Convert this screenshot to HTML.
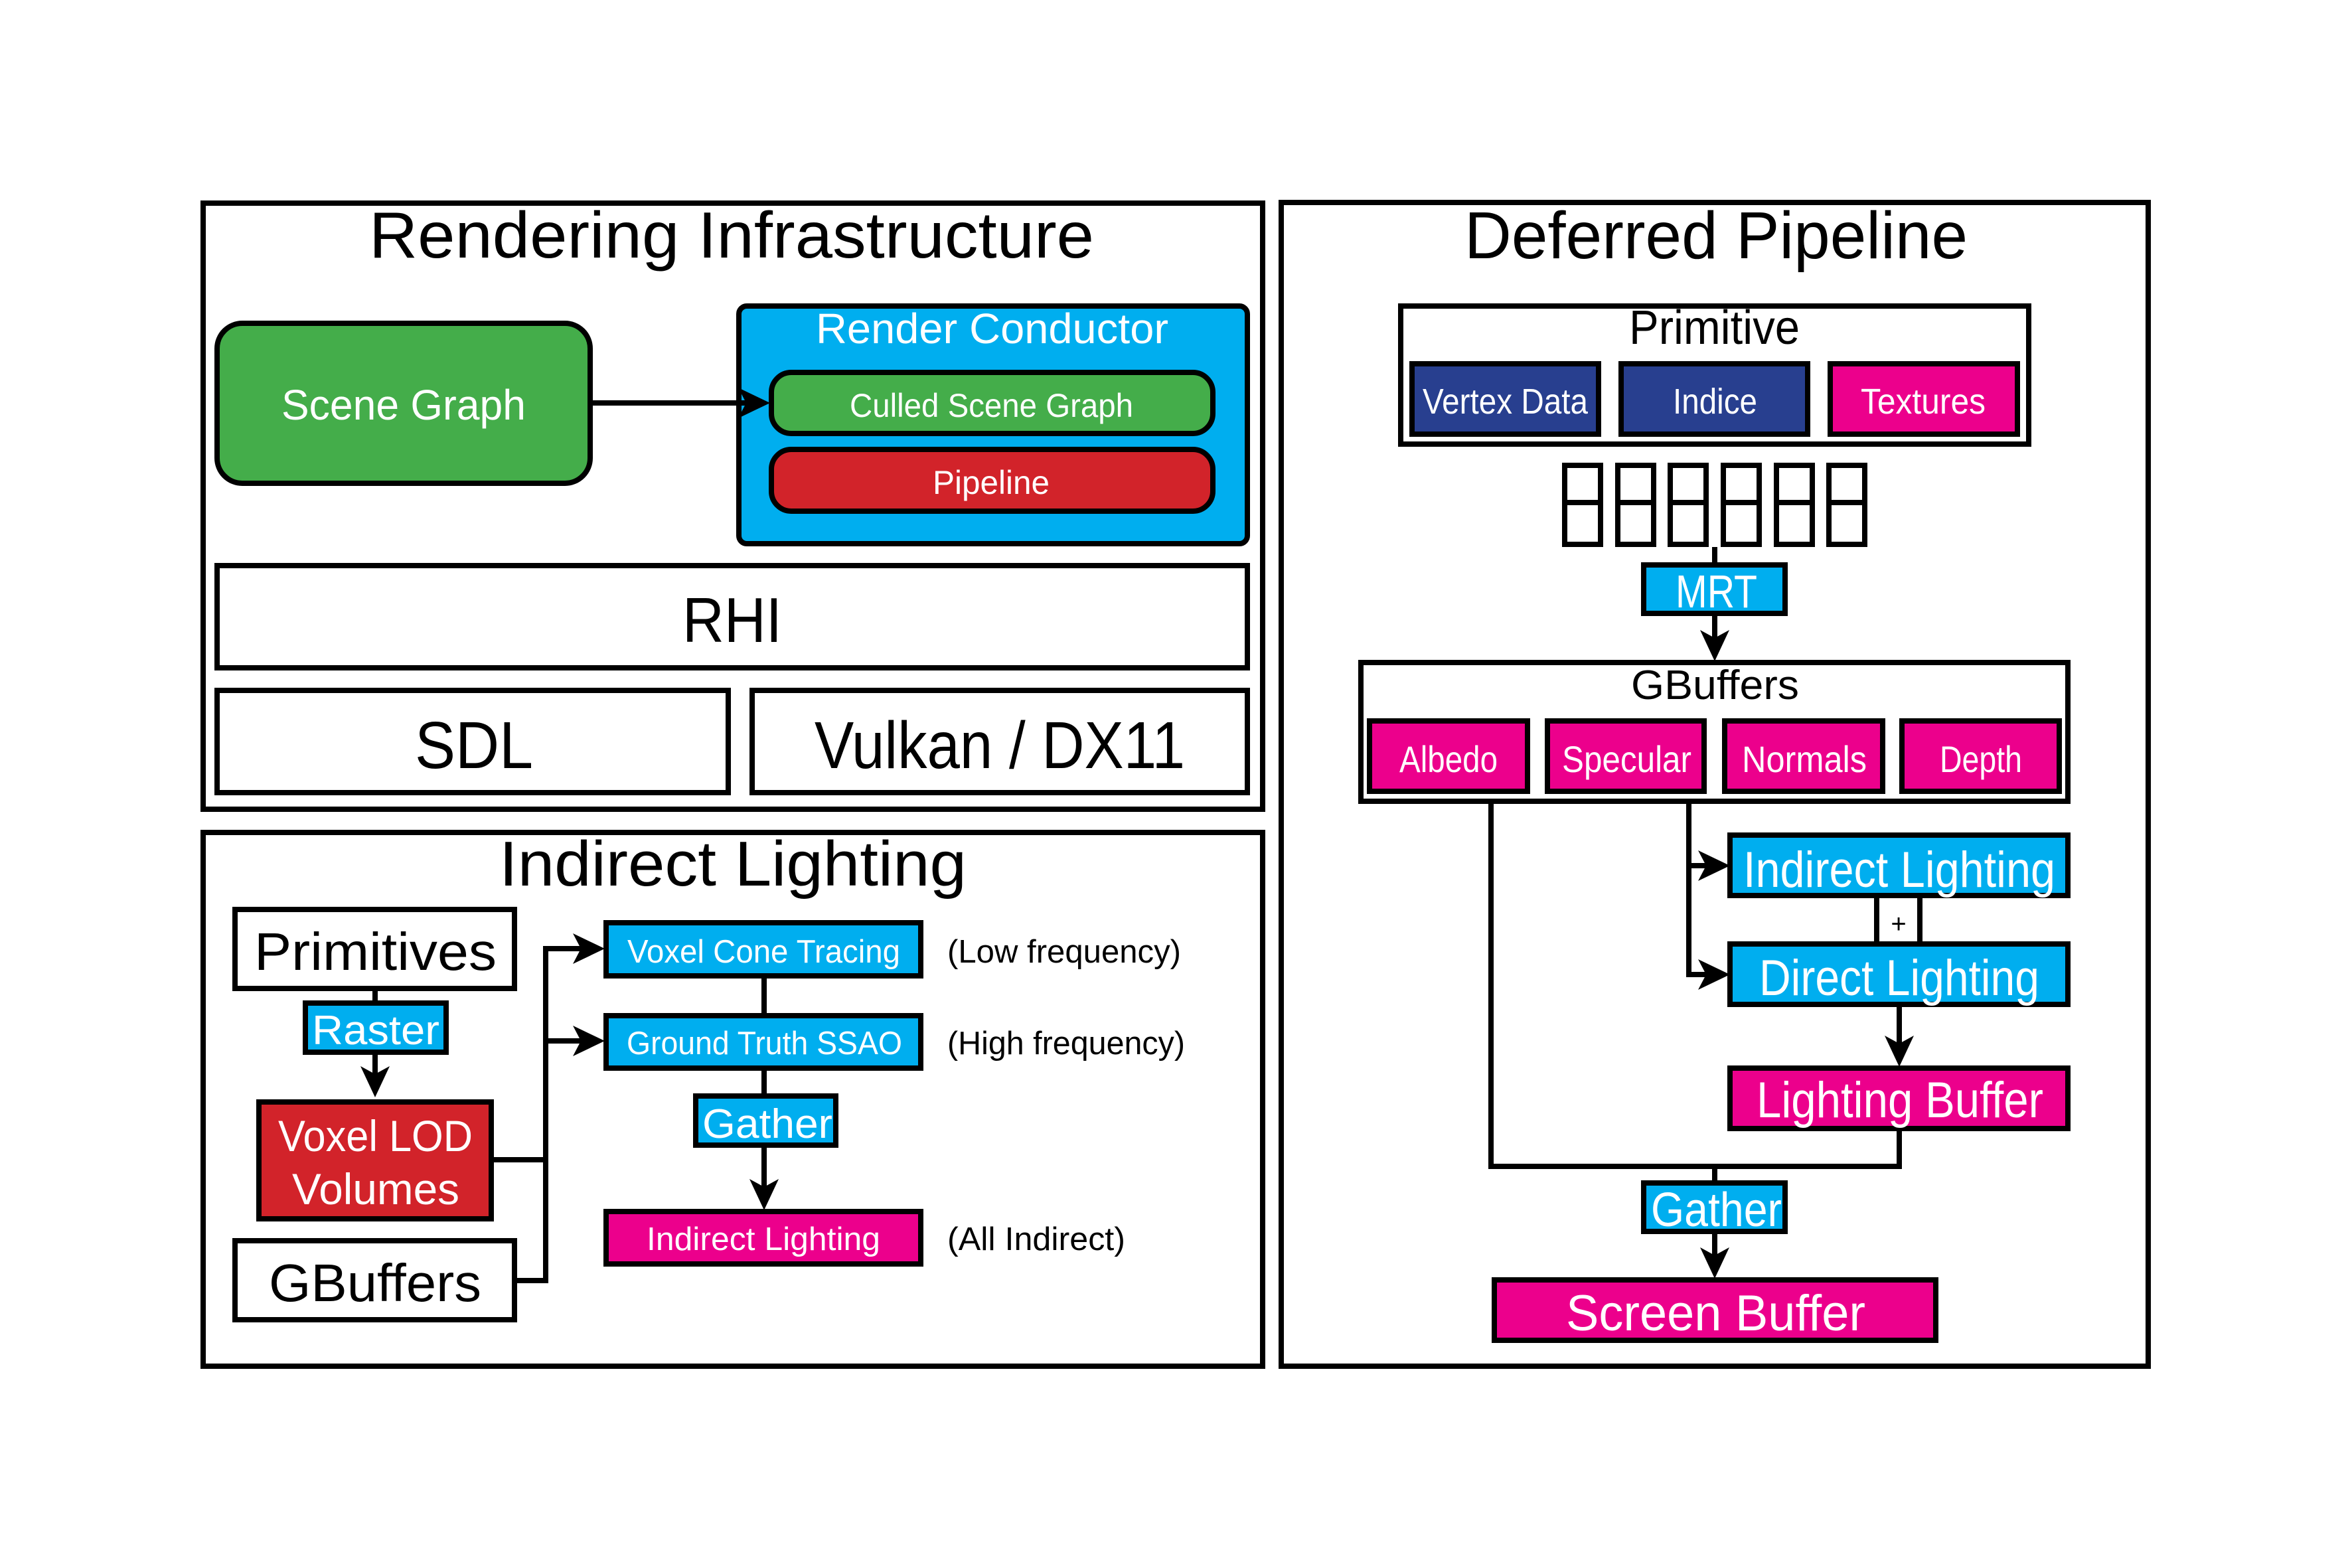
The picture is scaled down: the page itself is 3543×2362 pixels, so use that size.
<!DOCTYPE html>
<html><head><meta charset="utf-8"><style>
html,body{margin:0;padding:0;background:#fff;}
svg{display:block;}
text{font-family:"Liberation Sans Narrow","Liberation Sans",sans-serif;}
</style></head><body>
<svg width="3543" height="2362" viewBox="0 0 3543 2362" xmlns="http://www.w3.org/2000/svg">
<rect width="3543" height="2362" fill="#fff"/>
<g fill="none" stroke="#000" stroke-width="8">
<rect x="306" y="306" width="1596" height="913"/>
<rect x="306" y="1254" width="1596" height="804"/>
<rect x="1930" y="305" width="1306" height="1753"/>
</g>
<!-- Rendering Infrastructure -->
<text x="556" y="388" font-size="98" textLength="1092" lengthAdjust="spacingAndGlyphs">Rendering Infrastructure</text>
<rect x="327" y="487" width="562" height="241" rx="38" fill="#44AD4A" stroke="#000" stroke-width="8"/>
<text x="424" y="632" font-size="64" fill="#fff" textLength="368" lengthAdjust="spacingAndGlyphs">Scene Graph</text>
<rect x="1113" y="461" width="766" height="358" rx="12" fill="#00AEEF" stroke="#000" stroke-width="8"/>
<text x="1229" y="517" font-size="64" fill="#fff" textLength="531" lengthAdjust="spacingAndGlyphs">Render Conductor</text>
<rect x="1162" y="561" width="665" height="92" rx="30" fill="#44AD4A" stroke="#000" stroke-width="8"/>
<text x="1280" y="628" font-size="50" fill="#fff" textLength="427" lengthAdjust="spacingAndGlyphs">Culled Scene Graph</text>
<rect x="1162" y="677" width="665" height="93" rx="30" fill="#D2232A" stroke="#000" stroke-width="8"/>
<text x="1405" y="744" font-size="50" fill="#fff" textLength="176" lengthAdjust="spacingAndGlyphs">Pipeline</text>
<line x1="893" y1="607" x2="1130" y2="607" stroke="#000" stroke-width="8"/>
<polygon points="1160,607 1112,584 1124,607 1112,630" fill="#000"/>
<rect x="327" y="852" width="1552" height="154" fill="#fff" stroke="#000" stroke-width="8"/>
<text x="1028" y="967" font-size="96" textLength="150" lengthAdjust="spacingAndGlyphs">RHI</text>
<rect x="327" y="1040" width="770" height="154" fill="#fff" stroke="#000" stroke-width="8"/>
<text x="625" y="1157" font-size="100" textLength="178" lengthAdjust="spacingAndGlyphs">SDL</text>
<rect x="1133" y="1040" width="746" height="154" fill="#fff" stroke="#000" stroke-width="8"/>
<text x="1227" y="1157" font-size="100" textLength="558" lengthAdjust="spacingAndGlyphs">Vulkan / DX11</text>
<!-- Indirect Lighting panel -->
<text x="752" y="1334" font-size="96" textLength="704" lengthAdjust="spacingAndGlyphs">Indirect Lighting</text>
<g stroke="#000" stroke-width="8" fill="none">
<line x1="565" y1="1493" x2="565" y2="1507"/>
<line x1="565" y1="1589" x2="565" y2="1625"/>
<polyline points="744,1747 822,1747"/>
<polyline points="779,1929 822,1929 822,1429 885,1429"/>
<line x1="822" y1="1568" x2="885" y2="1568"/>
<line x1="1151" y1="1474" x2="1151" y2="1526"/>
<line x1="1151" y1="1613" x2="1151" y2="1647"/>
<line x1="1151" y1="1729" x2="1151" y2="1795"/>
</g>
<polygon points="565,1653 543,1606 565,1618 587,1606" fill="#000"/>
<polygon points="911,1429 863,1406 875,1429 863,1452" fill="#000"/>
<polygon points="911,1568 863,1545 875,1568 863,1591" fill="#000"/>
<polygon points="1151,1823 1129,1776 1151,1788 1173,1776" fill="#000"/>
<rect x="354" y="1370" width="421" height="119" fill="#fff" stroke="#000" stroke-width="8"/>
<text x="383" y="1461" font-size="80" textLength="365" lengthAdjust="spacingAndGlyphs">Primitives</text>
<rect x="460" y="1511" width="212" height="74" fill="#00AEEF" stroke="#000" stroke-width="8"/>
<text x="470" y="1573" font-size="62" fill="#fff" textLength="192" lengthAdjust="spacingAndGlyphs">Raster</text>
<rect x="390" y="1660" width="350" height="176" fill="#D2232A" stroke="#000" stroke-width="8"/>
<text x="419" y="1734" font-size="66" fill="#fff" textLength="293" lengthAdjust="spacingAndGlyphs">Voxel LOD</text>
<text x="440" y="1814" font-size="66" fill="#fff" textLength="252" lengthAdjust="spacingAndGlyphs">Volumes</text>
<rect x="354" y="1869" width="421" height="119" fill="#fff" stroke="#000" stroke-width="8"/>
<text x="405" y="1960" font-size="80" textLength="320" lengthAdjust="spacingAndGlyphs">GBuffers</text>
<rect x="913" y="1390" width="474" height="80" fill="#00AEEF" stroke="#000" stroke-width="8"/>
<text x="945" y="1450" font-size="49" fill="#fff" textLength="411" lengthAdjust="spacingAndGlyphs">Voxel Cone Tracing</text>
<rect x="913" y="1530" width="474" height="79" fill="#00AEEF" stroke="#000" stroke-width="8"/>
<text x="944" y="1588" font-size="49" fill="#fff" textLength="415" lengthAdjust="spacingAndGlyphs">Ground Truth SSAO</text>
<rect x="1048" y="1651" width="211" height="74" fill="#00AEEF" stroke="#000" stroke-width="8"/>
<text x="1058" y="1714" font-size="62" fill="#fff" textLength="196" lengthAdjust="spacingAndGlyphs">Gather</text>
<rect x="913" y="1825" width="474" height="79" fill="#EC008C" stroke="#000" stroke-width="8"/>
<text x="974" y="1883" font-size="49" fill="#fff" textLength="352" lengthAdjust="spacingAndGlyphs">Indirect Lighting</text>
<text x="1427" y="1450" font-size="49" textLength="352" lengthAdjust="spacingAndGlyphs">(Low frequency)</text>
<text x="1427" y="1588" font-size="49" textLength="358" lengthAdjust="spacingAndGlyphs">(High frequency)</text>
<text x="1427" y="1883" font-size="49" textLength="268" lengthAdjust="spacingAndGlyphs">(All Indirect)</text>
<!-- Deferred Pipeline -->
<text x="2206" y="389" font-size="100" textLength="758" lengthAdjust="spacingAndGlyphs">Deferred Pipeline</text>
<rect x="2110" y="461" width="946" height="208" fill="#fff" stroke="#000" stroke-width="8"/>
<text x="2454" y="518" font-size="72" textLength="257" lengthAdjust="spacingAndGlyphs">Primitive</text>
<rect x="2127" y="548" width="281" height="106" fill="#283F8F" stroke="#000" stroke-width="8"/>
<text x="2143" y="623" font-size="54" fill="#fff" textLength="249" lengthAdjust="spacingAndGlyphs">Vertex Data</text>
<rect x="2442" y="548" width="281" height="106" fill="#283F8F" stroke="#000" stroke-width="8"/>
<text x="2520" y="623" font-size="54" fill="#fff" textLength="127" lengthAdjust="spacingAndGlyphs">Indice</text>
<rect x="2757" y="548" width="282" height="106" fill="#EC008C" stroke="#000" stroke-width="8"/>
<text x="2803" y="623" font-size="54" fill="#fff" textLength="188" lengthAdjust="spacingAndGlyphs">Textures</text>
<g fill="#fff" stroke="#000" stroke-width="8">
<rect x="2357" y="701" width="54" height="119"/><line x1="2357" y1="757" x2="2411" y2="757"/>
<rect x="2437" y="701" width="54" height="119"/><line x1="2437" y1="757" x2="2491" y2="757"/>
<rect x="2516" y="701" width="54" height="119"/><line x1="2516" y1="757" x2="2570" y2="757"/>
<rect x="2596" y="701" width="54" height="119"/><line x1="2596" y1="757" x2="2650" y2="757"/>
<rect x="2676" y="701" width="54" height="119"/><line x1="2676" y1="757" x2="2730" y2="757"/>
<rect x="2755" y="701" width="54" height="119"/><line x1="2755" y1="757" x2="2809" y2="757"/>
</g>
<g stroke="#000" stroke-width="8" fill="none">
<line x1="2583" y1="824" x2="2583" y2="847"/>
<line x1="2583" y1="928" x2="2583" y2="965"/>
<polyline points="2544,1211 2544,1468 2580,1468"/>
<line x1="2544" y1="1304" x2="2580" y2="1304"/>
<line x1="2861" y1="1517" x2="2861" y2="1578"/>
<polyline points="2246,1211 2246,1757 2861,1757 2861,1704"/>
<line x1="2583" y1="1757" x2="2583" y2="1778"/>
<line x1="2583" y1="1859" x2="2583" y2="1898"/>
</g>
<polygon points="2583,996 2561,949 2583,961 2605,949" fill="#000"/>
<polygon points="2606,1304 2558,1281 2570,1304 2558,1327" fill="#000"/>
<polygon points="2606,1468 2558,1445 2570,1468 2558,1491" fill="#000"/>
<polygon points="2861,1607 2839,1560 2861,1572 2883,1560" fill="#000"/>
<polygon points="2583,1926 2561,1879 2583,1891 2605,1879" fill="#000"/>
<rect x="2476" y="851" width="213" height="73" fill="#00AEEF" stroke="#000" stroke-width="8"/>
<text x="2524" y="915" font-size="70" fill="#fff" textLength="123" lengthAdjust="spacingAndGlyphs">MRT</text>
<rect x="2050" y="998" width="1065" height="209" fill="#fff" stroke="#000" stroke-width="8"/>
<text x="2457" y="1053" font-size="62" textLength="253" lengthAdjust="spacingAndGlyphs">GBuffers</text>
<rect x="2063" y="1086" width="238" height="106" fill="#EC008C" stroke="#000" stroke-width="8"/>
<text x="2108" y="1163" font-size="56" fill="#fff" textLength="148" lengthAdjust="spacingAndGlyphs">Albedo</text>
<rect x="2331" y="1086" width="236" height="106" fill="#EC008C" stroke="#000" stroke-width="8"/>
<text x="2353" y="1163" font-size="56" fill="#fff" textLength="195" lengthAdjust="spacingAndGlyphs">Specular</text>
<rect x="2598" y="1086" width="238" height="106" fill="#EC008C" stroke="#000" stroke-width="8"/>
<text x="2624" y="1163" font-size="56" fill="#fff" textLength="188" lengthAdjust="spacingAndGlyphs">Normals</text>
<rect x="2865" y="1086" width="237" height="106" fill="#EC008C" stroke="#000" stroke-width="8"/>
<text x="2922" y="1163" font-size="56" fill="#fff" textLength="124" lengthAdjust="spacingAndGlyphs">Depth</text>
<rect x="2606" y="1258" width="509" height="91" fill="#00AEEF" stroke="#000" stroke-width="8"/>
<text x="2626" y="1336" font-size="76" fill="#fff" textLength="470" lengthAdjust="spacingAndGlyphs">Indirect Lighting</text>
<rect x="2827" y="1349" width="65" height="76" fill="#fff" stroke="#000" stroke-width="8"/>
<text x="2860" y="1405" font-size="40" text-anchor="middle">+</text>
<rect x="2606" y="1422" width="509" height="91" fill="#00AEEF" stroke="#000" stroke-width="8"/>
<text x="2650" y="1499" font-size="76" fill="#fff" textLength="422" lengthAdjust="spacingAndGlyphs">Direct Lighting</text>
<rect x="2606" y="1609" width="509" height="91" fill="#EC008C" stroke="#000" stroke-width="8"/>
<text x="2646" y="1683" font-size="76" fill="#fff" textLength="432" lengthAdjust="spacingAndGlyphs">Lighting Buffer</text>
<rect x="2476" y="1782" width="213" height="73" fill="#00AEEF" stroke="#000" stroke-width="8"/>
<text x="2487" y="1847" font-size="72" fill="#fff" textLength="197" lengthAdjust="spacingAndGlyphs">Gather</text>
<rect x="2251" y="1928" width="665" height="91" fill="#EC008C" stroke="#000" stroke-width="8"/>
<text x="2359" y="2004" font-size="76" fill="#fff" textLength="451" lengthAdjust="spacingAndGlyphs">Screen Buffer</text>
</svg>
</body></html>
